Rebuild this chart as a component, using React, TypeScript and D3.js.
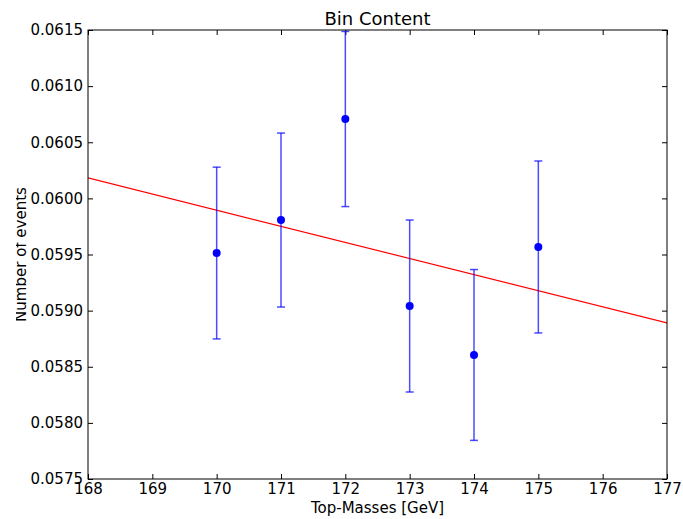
import React, { useEffect, useRef } from 'react';
import * as d3 from 'd3';

// measured points (mass in GeV, bin content, error)
const masses = [170, 171, 172, 173, 174, 175];
const content = [0.059513, 0.059807, 0.060707, 0.059041, 0.058605, 0.059567];
const errors = [0.000765, 0.000775, 0.00078, 0.000766, 0.000761, 0.000766];

// linear fit, given at the two ends of the x range
const fitX = [168, 177];
const fitY = [0.060182, 0.05889];

const xTicks = [168, 169, 170, 171, 172, 173, 174, 175, 176, 177];
const yTicks = [0.0575, 0.058, 0.0585, 0.059, 0.0595, 0.06, 0.0605, 0.061, 0.0615];

export default function App() {
  const ref = useRef<SVGSVGElement>(null);

  useEffect(() => {
    document.body.style.margin = '0';
    const width = 683, height = 519;
    const margin = { top: 30, right: 16, bottom: 40, left: 88 };
    const w = width - margin.left - margin.right;
    const h = height - margin.top - margin.bottom;

    const svg = d3.select(ref.current);
    svg.selectAll('*').remove();
    svg.style('font-family', '"DejaVu Sans", sans-serif');

    const x = d3.scaleLinear().domain([168, 177]).range([0, w]);
    const y = d3.scaleLinear().domain([0.0575, 0.0615]).range([h, 0]);

    const defs = svg.append('defs');
    defs.append('clipPath').attr('id', 'plotclip')
      .append('rect').attr('x', 0).attr('y', -2).attr('width', w).attr('height', h + 2);
    defs.append('clipPath').attr('id', 'ylabclip')
      .append('rect').attr('x', 16).attr('y', 0).attr('width', 60).attr('height', height);

    // y label, cut on the left like in the picture
    svg.append('g').attr('clip-path', 'url(#ylabclip)')
      .append('text')
      .attr('transform', `translate(26,${margin.top + h / 2}) rotate(-90)`)
      .attr('text-anchor', 'middle')
      .attr('font-size', 15)
      .text('Number of events');

    const g = svg.append('g').attr('transform', `translate(${margin.left},${margin.top})`);

    const fmt = d3.format('.4f');
    g.append('g').call(d3.axisLeft(y).tickValues(yTicks).tickSize(-5).tickPadding(5).tickFormat(d => fmt(d as number)))
      .call(a => a.select('.domain').remove());
    g.append('g').attr('transform', `translate(${w},0)`)
      .call(d3.axisRight(y).tickValues(yTicks).tickSize(-5).tickFormat(() => ''))
      .call(a => a.select('.domain').remove());
    g.append('g').attr('transform', `translate(0,${h})`)
      .call(d3.axisBottom(x).tickValues(xTicks).tickSize(-5).tickPadding(4).tickFormat(d3.format('d')))
      .call(a => a.select('.domain').remove());
    g.append('g')
      .call(d3.axisTop(x).tickValues(xTicks).tickSize(-5).tickFormat(() => ''))
      .call(a => a.select('.domain').remove());
    g.selectAll('.tick text').attr('font-size', 15).attr('fill', '#000').attr('font-family', '"DejaVu Sans", sans-serif');
    g.selectAll('.tick line').attr('stroke', '#000');

    // fit line
    const line = d3.line<number>().x((_, i) => x(fitX[i])).y(d => y(d));
    g.append('path').attr('clip-path', 'url(#plotclip)')
      .attr('d', line(fitY))
      .attr('fill', 'none').attr('stroke', '#ff0000').attr('stroke-width', 1.2);

    // error bars
    const eb = g.append('g').attr('clip-path', 'url(#plotclip)')
      .attr('stroke', '#0000ff').attr('stroke-opacity', 0.7).attr('stroke-width', 1.5);
    masses.forEach((m, i) => {
      const cx = x(m);
      const top = y(content[i] + errors[i]);
      const bot = y(content[i] - errors[i]);
      eb.append('line').attr('x1', cx).attr('x2', cx).attr('y1', top).attr('y2', bot);
      eb.append('line').attr('x1', cx - 4).attr('x2', cx + 4).attr('y1', top).attr('y2', top);
      eb.append('line').attr('x1', cx - 4).attr('x2', cx + 4).attr('y1', bot).attr('y2', bot);
    });

    g.append('g').selectAll('circle').data(masses).join('circle')
      .attr('cx', d => x(d))
      .attr('cy', (_, i) => y(content[i]))
      .attr('r', 4)
      .attr('fill', '#0000ff');

    // frame
    g.append('rect').attr('width', w).attr('height', h)
      .attr('fill', 'none').attr('stroke', '#000').attr('stroke-width', 1);

    g.append('text')
      .attr('x', w / 2).attr('y', -5)
      .attr('text-anchor', 'middle').attr('font-size', 18)
      .text('Bin Content');

    g.append('text')
      .attr('x', w / 2).attr('y', h + 34)
      .attr('text-anchor', 'middle').attr('font-size', 15)
      .text('Top-Masses [GeV]');
  }, []);

  return <svg ref={ref} width={683} height={519} style={{ display: 'block', background: '#fff' }} />;
}
